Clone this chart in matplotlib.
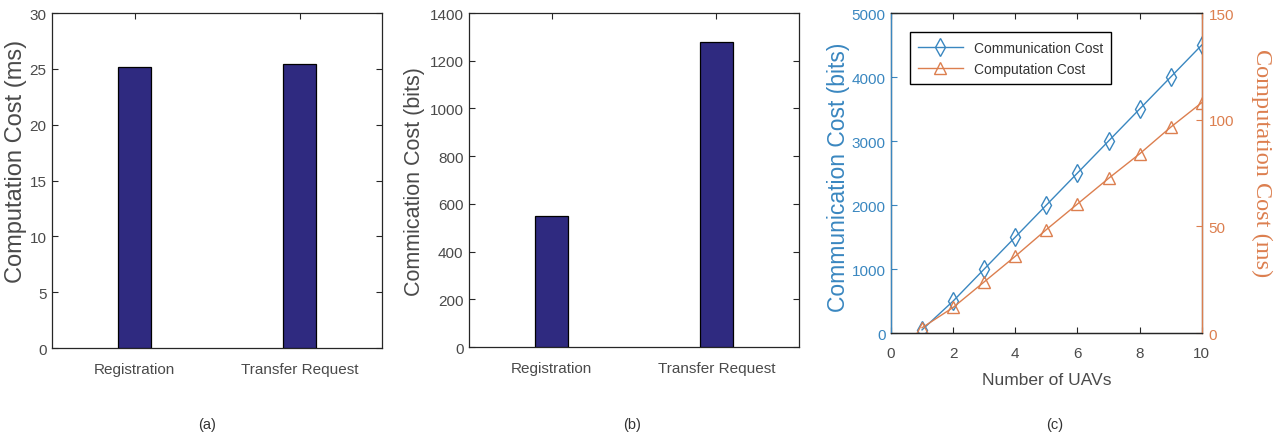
import matplotlib
matplotlib.use("Agg")
import matplotlib.pyplot as plt
from matplotlib import font_manager

# ---- data ----
categories = ["Registration", "Transfer Request"]
computation_ms = [25.2, 25.45]
communication_bits = [548, 1280]

uavs = [1, 2, 3, 4, 5, 6, 7, 8, 9, 10]
comm_cost_bits = [50, 500, 1000, 1500, 2000, 2500, 3000, 3500, 4000, 4500]
comp_cost_ms = [2.5, 12, 24, 36, 48.5, 60.5, 72.5, 84, 96.5, 108]

# ---- styles ----
installed = {f.name for f in font_manager.fontManager.ttflist}
SANS = "Liberation Sans" if "Liberation Sans" in installed else "DejaVu Sans"
SERIF = "Liberation Serif" if "Liberation Serif" in installed else "DejaVu Serif"
plt.rcParams["font.family"] = [SANS, "DejaVu Sans"]

BAR = "#2f2a80"
TXT = "#4a4a4a"
AX = "#262626"
BLUE = "#3a87c0"
ORANGE = "#dc7f4f"

fig = plt.figure(figsize=(12.79, 4.39), dpi=100)


def matlab_box(ax):
    for s in ax.spines.values():
        s.set_color(AX)
        s.set_linewidth(0.9)
    ax.tick_params(direction="in", length=4, width=0.8, top=True, right=True,
                   colors=AX, labelcolor=TXT, labelsize=11)
    ax.tick_params(axis="x", pad=10)
    ax.tick_params(axis="y", pad=4)


def bar_panel(rect, values, ylim, yticks, ylabel, label_size, label_xy):
    ax = fig.add_axes(rect)
    pos = range(1, len(values) + 1)
    ax.bar(pos, values, width=0.2, color=BAR, edgecolor="black", linewidth=0.9, zorder=3)
    ax.set_xlim(0.5, len(values) + 0.5)
    ax.set_ylim(*ylim)
    ax.set_yticks(yticks)
    ax.set_xticks(list(pos))
    ax.set_xticklabels(categories)
    ax.set_ylabel(ylabel, fontsize=label_size, color=TXT, va="center")
    ax.yaxis.set_label_coords(*label_xy)
    matlab_box(ax)
    return ax


ax_a = bar_panel([0.0407, 0.205, 0.258, 0.763], computation_ms, (0, 30),
                 range(0, 31, 5), "Computation Cost (ms)", 17, (-0.11, 0.56))
ax_b = bar_panel([0.3667, 0.207, 0.258, 0.761], communication_bits, (0, 1400),
                 range(0, 1401, 200), "Commication Cost (bits)", 15.5, (-0.164, 0.5))

# ---- panel (c): dual-axis line chart ----
ax_c = fig.add_axes([0.6966, 0.239, 0.243, 0.729])
ax_r = ax_c.twinx()

l1, = ax_c.plot(uavs, comm_cost_bits, color=BLUE, lw=1.0, marker="d",
                markersize=9, markerfacecolor="none", markeredgecolor=BLUE,
                markeredgewidth=1.0, label="Communication Cost")
l2, = ax_r.plot(uavs, comp_cost_ms, color=ORANGE, lw=1.0, marker="^",
                markersize=8, markerfacecolor="none", markeredgecolor=ORANGE,
                markeredgewidth=1.0, label="Computation Cost")

ax_c.set_xlim(0, 10)
ax_c.set_xticks(range(0, 11, 2))
ax_c.set_ylim(0, 5000)
ax_c.set_yticks(range(0, 5001, 1000))
ax_r.set_ylim(0, 150)
ax_r.set_yticks(range(0, 151, 50))

for s in ax_c.spines.values():
    s.set_color(AX)
    s.set_linewidth(0.9)
ax_r.spines["left"].set_color(BLUE)
ax_r.spines["right"].set_color(ORANGE)
ax_r.spines["top"].set_color(AX)
ax_r.spines["bottom"].set_color(AX)
for s in ax_r.spines.values():
    s.set_linewidth(0.9)

ax_c.tick_params(axis="x", direction="in", length=4, width=0.8, top=True,
                 colors=AX, labelcolor=TXT, labelsize=11, pad=9)
ax_c.tick_params(axis="y", direction="in", length=4, width=0.8, right=False,
                 colors=BLUE, labelcolor=BLUE, labelsize=11, pad=4)
ax_r.tick_params(axis="y", direction="in", length=4, width=0.8,
                 colors=ORANGE, labelcolor=ORANGE, labelsize=11, pad=5)

ax_c.set_xlabel("Number of UAVs", fontsize=12.5, color=TXT, labelpad=9)
ax_c.set_ylabel("Communication Cost (bits)", fontsize=16.5, color=BLUE, va="center")
ax_c.yaxis.set_label_coords(-0.17, 0.49)
ax_r.set_ylabel("Computation Cost (ms)", fontsize=17.5, color=ORANGE,
                family=[SERIF, "DejaVu Serif"], rotation=270, va="center")
ax_r.yaxis.set_label_coords(1.193, 0.534)

leg = ax_r.legend(handles=[l1, l2], loc="upper left", bbox_to_anchor=(0.061, 0.94),
                  borderaxespad=0, fancybox=False, edgecolor="black", framealpha=1,
                  fontsize=10, handlelength=3.2, borderpad=0.6, labelspacing=0.5)
leg.get_frame().set_linewidth(1.0)
for t in leg.get_texts():
    t.set_color("#333333")

# ---- subfigure captions ----
for x, lab in [(207, "(a)"), (632, "(b)"), (1055, "(c)")]:
    fig.text(x / 1279, 0.032, lab, ha="center", va="center", fontsize=10.5, color="#333333")

fig.savefig("out.png", dpi=100)
